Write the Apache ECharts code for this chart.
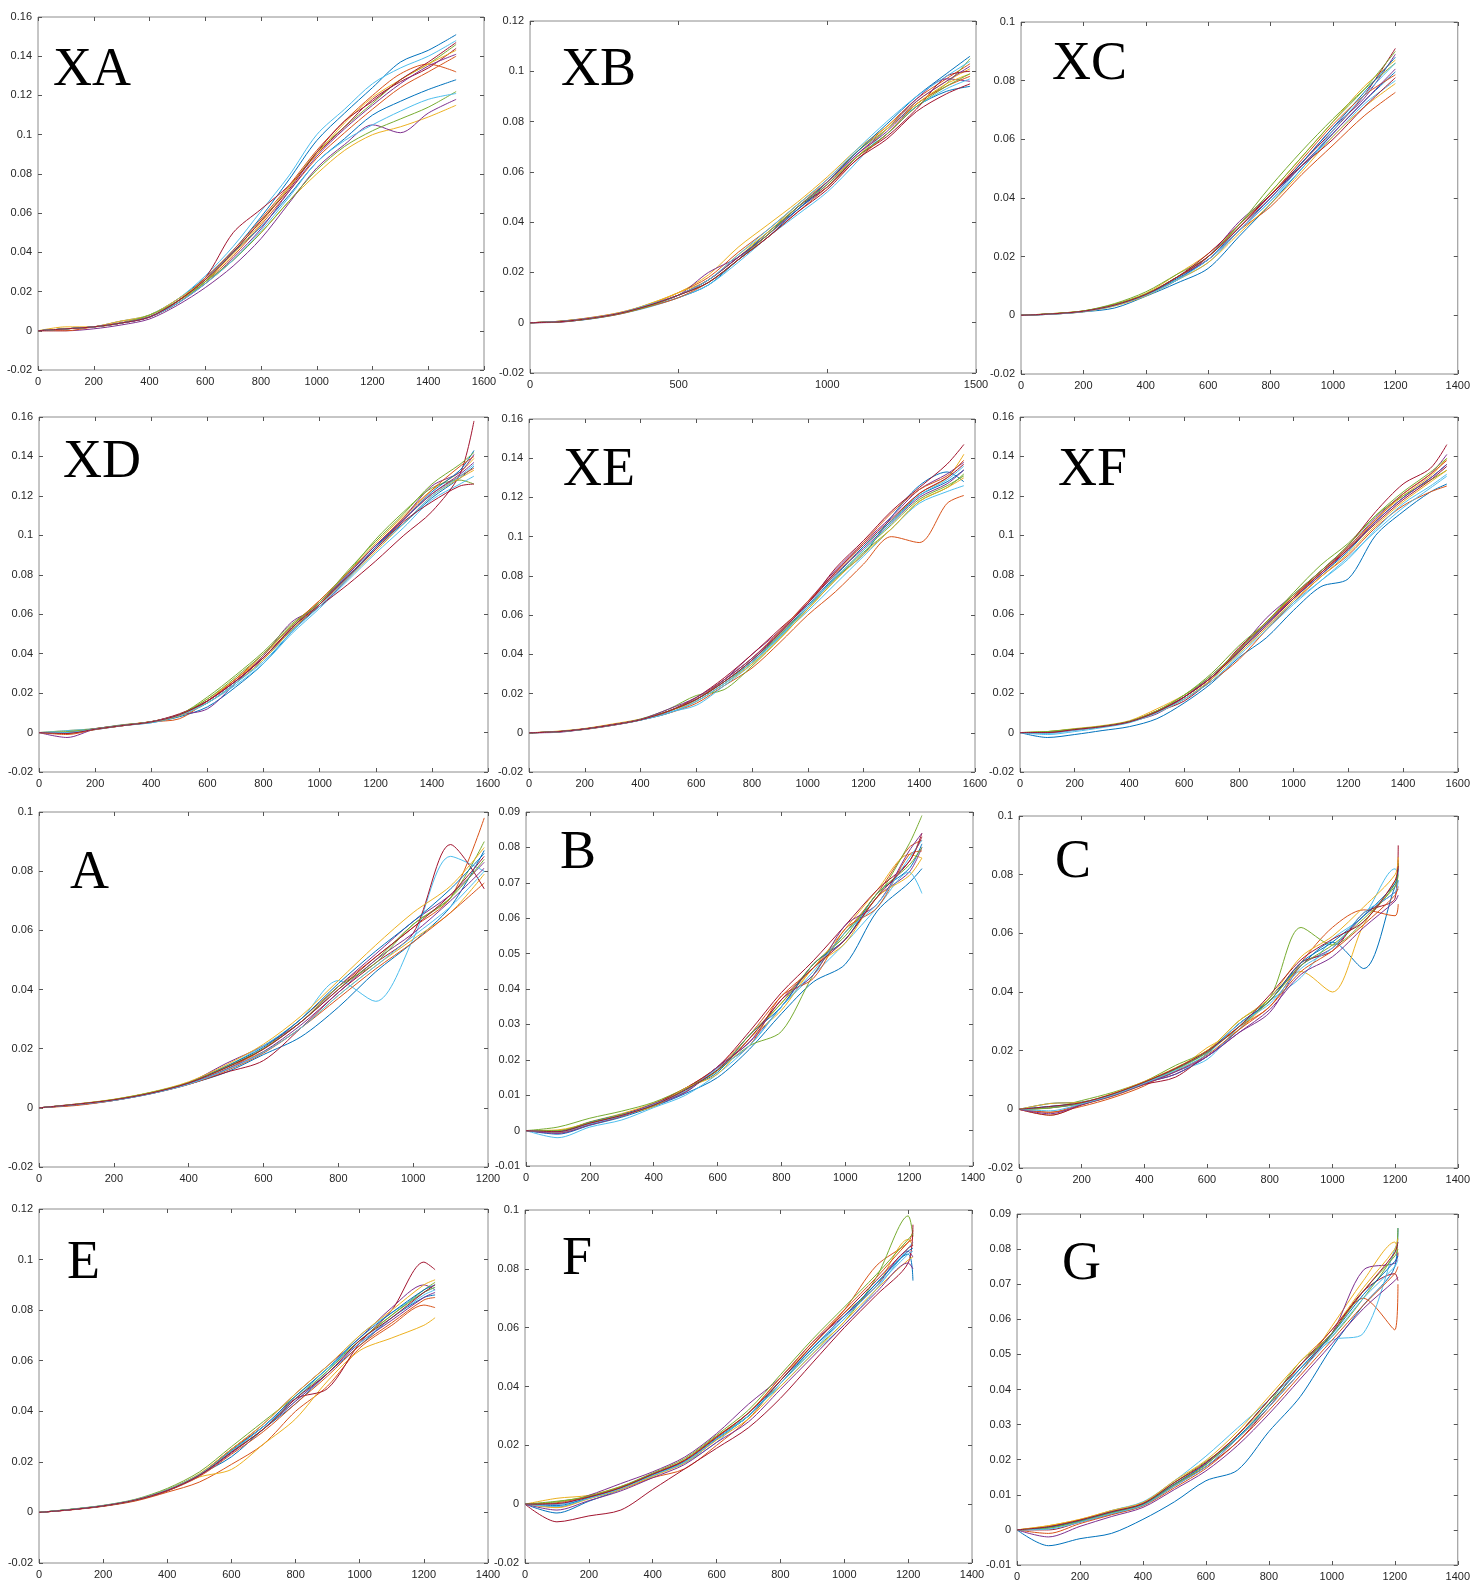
<!DOCTYPE html>
<html>
<head>
<meta charset="utf-8">
<title>Curves XA-G</title>
<script src="https://cdn.jsdelivr.net/npm/echarts@6/dist/echarts.min.js"></script>
<style>
  html, body { margin: 0; padding: 0; background: #fff; }
  #main { width: 1473px; height: 1582px; }
</style>
</head>
<body>
<div id="main"></div>
<script>
// MATLAB default line colours, cycled over the traces
const COLORS = ['#0072BD', '#D95319', '#EDB120', '#7E2F8E', '#77AC30', '#4DBEEE', '#A2142F'];

// ---- XA ----
const XA_x = [0, 100, 200, 300, 400, 500, 600, 700, 800, 900, 1000, 1100, 1200, 1300, 1400, 1500];
const XA_y = [
  [0, 0.001, 0.002, 0.004, 0.008, 0.016, 0.027, 0.041, 0.058, 0.077, 0.097, 0.111, 0.124, 0.137, 0.143, 0.151],
  [0, 0.001, 0.002, 0.005, 0.007, 0.014, 0.025, 0.038, 0.054, 0.071, 0.088, 0.101, 0.113, 0.124, 0.132, 0.140],
  [0, 0.002, 0.002, 0.004, 0.008, 0.015, 0.024, 0.036, 0.050, 0.066, 0.080, 0.092, 0.100, 0.104, 0.109, 0.115],
  [0, 0.000, 0.001, 0.003, 0.006, 0.013, 0.022, 0.033, 0.047, 0.065, 0.083, 0.095, 0.105, 0.101, 0.111, 0.118],
  [0, 0.001, 0.002, 0.004, 0.007, 0.014, 0.025, 0.040, 0.056, 0.073, 0.091, 0.104, 0.116, 0.128, 0.136, 0.146],
  [0, 0.001, 0.002, 0.005, 0.008, 0.016, 0.028, 0.043, 0.061, 0.079, 0.100, 0.113, 0.126, 0.134, 0.140, 0.148],
  [0, 0.001, 0.002, 0.004, 0.007, 0.015, 0.027, 0.050, 0.062, 0.074, 0.090, 0.104, 0.118, 0.127, 0.134, 0.144],
  [0, 0.001, 0.002, 0.004, 0.007, 0.015, 0.026, 0.040, 0.053, 0.069, 0.086, 0.098, 0.110, 0.117, 0.123, 0.128],
  [0, 0.000, 0.002, 0.004, 0.007, 0.015, 0.027, 0.041, 0.057, 0.074, 0.092, 0.107, 0.120, 0.131, 0.136, 0.132],
  [0, 0.001, 0.002, 0.005, 0.008, 0.016, 0.026, 0.039, 0.055, 0.073, 0.090, 0.106, 0.119, 0.128, 0.136, 0.143],
  [0, 0.001, 0.002, 0.004, 0.007, 0.014, 0.024, 0.037, 0.052, 0.071, 0.089, 0.103, 0.115, 0.126, 0.135, 0.141],
  [0, 0.001, 0.002, 0.004, 0.008, 0.015, 0.025, 0.036, 0.050, 0.066, 0.082, 0.094, 0.102, 0.108, 0.114, 0.122],
  [0, 0.001, 0.002, 0.004, 0.007, 0.014, 0.024, 0.036, 0.051, 0.068, 0.086, 0.097, 0.105, 0.112, 0.118, 0.121],
  [0, 0.001, 0.002, 0.004, 0.007, 0.015, 0.026, 0.040, 0.056, 0.072, 0.091, 0.107, 0.117, 0.128, 0.137, 0.147]
];

// ---- XB ----
const XB_x = [0, 100, 200, 300, 400, 500, 600, 700, 800, 900, 1000, 1100, 1200, 1300, 1400, 1480];
const XB_y = [
  [0, 0.0003, 0.0015, 0.0035, 0.0065, 0.010, 0.015, 0.025, 0.034, 0.045, 0.054, 0.066, 0.075, 0.086, 0.092, 0.094],
  [0, 0.0006, 0.0020, 0.0040, 0.0072, 0.012, 0.018, 0.028, 0.037, 0.047, 0.057, 0.068, 0.078, 0.089, 0.097, 0.103],
  [0, 0.0005, 0.0018, 0.0037, 0.0075, 0.012, 0.019, 0.030, 0.039, 0.048, 0.058, 0.069, 0.078, 0.088, 0.096, 0.101],
  [0, 0.0002, 0.0016, 0.0036, 0.0070, 0.011, 0.020, 0.026, 0.035, 0.045, 0.055, 0.067, 0.077, 0.089, 0.097, 0.096],
  [0, 0.0006, 0.0018, 0.0038, 0.0068, 0.011, 0.017, 0.026, 0.036, 0.046, 0.056, 0.068, 0.077, 0.087, 0.095, 0.105],
  [0, 0.0004, 0.0014, 0.0034, 0.0062, 0.010, 0.015, 0.024, 0.034, 0.043, 0.052, 0.064, 0.077, 0.086, 0.093, 0.097],
  [0, 0.0005, 0.0018, 0.0038, 0.0072, 0.011, 0.017, 0.026, 0.035, 0.046, 0.054, 0.066, 0.074, 0.085, 0.098, 0.100],
  [0, 0.0004, 0.0016, 0.0036, 0.0068, 0.011, 0.016, 0.025, 0.036, 0.045, 0.056, 0.068, 0.079, 0.090, 0.099, 0.106],
  [0, 0.0003, 0.0015, 0.0034, 0.0064, 0.010, 0.016, 0.025, 0.034, 0.044, 0.054, 0.065, 0.075, 0.087, 0.094, 0.098],
  [0, 0.0006, 0.0019, 0.0040, 0.0074, 0.012, 0.017, 0.027, 0.036, 0.047, 0.056, 0.066, 0.077, 0.087, 0.095, 0.099],
  [0, 0.0005, 0.0017, 0.0037, 0.0070, 0.011, 0.017, 0.026, 0.035, 0.046, 0.056, 0.067, 0.076, 0.088, 0.096, 0.102],
  [0, 0.0004, 0.0016, 0.0036, 0.0066, 0.011, 0.016, 0.025, 0.035, 0.046, 0.055, 0.066, 0.075, 0.086, 0.094, 0.099],
  [0, 0.0005, 0.0018, 0.0038, 0.0072, 0.011, 0.017, 0.027, 0.037, 0.047, 0.057, 0.069, 0.080, 0.090, 0.098, 0.104],
  [0, 0.0004, 0.0017, 0.0037, 0.0069, 0.011, 0.016, 0.025, 0.034, 0.044, 0.053, 0.065, 0.073, 0.084, 0.091, 0.095]
];

// ---- XC ----
const XC_x = [0, 100, 200, 300, 400, 500, 600, 700, 800, 900, 1000, 1100, 1200];
const XC_y = [
  [0, 0.0004, 0.0012, 0.0025, 0.0065, 0.011, 0.016, 0.027, 0.038, 0.050, 0.062, 0.073, 0.083],
  [0, 0.0005, 0.0014, 0.0035, 0.0070, 0.013, 0.019, 0.029, 0.037, 0.048, 0.058, 0.068, 0.076],
  [0, 0.0006, 0.0015, 0.0038, 0.0075, 0.014, 0.021, 0.031, 0.042, 0.054, 0.066, 0.078, 0.087],
  [0, 0.0004, 0.0013, 0.0034, 0.0070, 0.012, 0.020, 0.032, 0.041, 0.052, 0.064, 0.074, 0.089],
  [0, 0.0005, 0.0015, 0.0040, 0.0080, 0.014, 0.020, 0.031, 0.044, 0.056, 0.067, 0.077, 0.086],
  [0, 0.0004, 0.0012, 0.0032, 0.0068, 0.012, 0.018, 0.029, 0.039, 0.051, 0.061, 0.072, 0.080],
  [0, 0.0005, 0.0014, 0.0036, 0.0070, 0.013, 0.021, 0.031, 0.041, 0.052, 0.063, 0.075, 0.091],
  [0, 0.0005, 0.0013, 0.0034, 0.0068, 0.0125, 0.019, 0.030, 0.040, 0.052, 0.064, 0.076, 0.088],
  [0, 0.0005, 0.0014, 0.0036, 0.0072, 0.013, 0.020, 0.030, 0.041, 0.053, 0.065, 0.075, 0.082],
  [0, 0.0004, 0.0012, 0.0032, 0.0066, 0.012, 0.018, 0.028, 0.038, 0.049, 0.061, 0.071, 0.079],
  [0, 0.0005, 0.0013, 0.0035, 0.0070, 0.013, 0.019, 0.029, 0.040, 0.051, 0.062, 0.073, 0.084],
  [0, 0.0006, 0.0015, 0.0037, 0.0073, 0.013, 0.020, 0.031, 0.042, 0.054, 0.066, 0.077, 0.090],
  [0, 0.0004, 0.0013, 0.0034, 0.0068, 0.012, 0.019, 0.029, 0.039, 0.050, 0.063, 0.075, 0.086],
  [0, 0.0005, 0.0014, 0.0035, 0.0071, 0.013, 0.020, 0.030, 0.041, 0.051, 0.060, 0.071, 0.081]
];

// ---- XD ----
const XD_x = [0, 100, 200, 300, 400, 500, 600, 700, 800, 900, 1000, 1100, 1200, 1300, 1400, 1500, 1550];
const XD_y = [
  [0, 0.000, 0.0015, 0.0035, 0.0050, 0.0080, 0.013, 0.023, 0.035, 0.051, 0.065, 0.080, 0.095, 0.106, 0.119, 0.129, 0.135],
  [0, -0.001, 0.0015, 0.0035, 0.0055, 0.0070, 0.016, 0.027, 0.038, 0.053, 0.066, 0.079, 0.093, 0.108, 0.121, 0.130, 0.134],
  [0, 0.001, 0.0020, 0.0040, 0.0055, 0.0090, 0.017, 0.027, 0.039, 0.054, 0.067, 0.081, 0.096, 0.110, 0.123, 0.132, 0.139],
  [0, -0.0025, 0.0018, 0.0037, 0.0054, 0.0090, 0.012, 0.025, 0.039, 0.056, 0.064, 0.078, 0.094, 0.109, 0.125, 0.132, 0.141],
  [0, 0.000, 0.0020, 0.0038, 0.0055, 0.0090, 0.018, 0.029, 0.041, 0.055, 0.066, 0.081, 0.098, 0.112, 0.124, 0.128, 0.126],
  [0, 0.001, 0.0020, 0.0040, 0.0050, 0.0085, 0.015, 0.024, 0.035, 0.050, 0.063, 0.077, 0.091, 0.104, 0.118, 0.126, 0.130],
  [0, 0.000, 0.0018, 0.0035, 0.0055, 0.0095, 0.016, 0.026, 0.038, 0.052, 0.064, 0.075, 0.087, 0.100, 0.112, 0.131, 0.158],
  [0, 0.000, 0.0018, 0.0036, 0.0053, 0.0085, 0.015, 0.025, 0.037, 0.052, 0.065, 0.079, 0.094, 0.108, 0.122, 0.133, 0.143],
  [0, 0.000, 0.0020, 0.0038, 0.0056, 0.0090, 0.016, 0.027, 0.040, 0.054, 0.067, 0.081, 0.095, 0.109, 0.123, 0.135, 0.140],
  [0, -0.0005, 0.0017, 0.0035, 0.0053, 0.0085, 0.015, 0.025, 0.037, 0.052, 0.065, 0.078, 0.092, 0.106, 0.120, 0.129, 0.133],
  [0, 0.000, 0.0019, 0.0037, 0.0055, 0.0090, 0.016, 0.026, 0.038, 0.053, 0.066, 0.080, 0.095, 0.108, 0.121, 0.131, 0.137],
  [0, 0.0005, 0.0019, 0.0038, 0.0055, 0.0090, 0.017, 0.028, 0.040, 0.054, 0.066, 0.082, 0.097, 0.111, 0.126, 0.136, 0.142],
  [0, 0.000, 0.0018, 0.0036, 0.0054, 0.0088, 0.015, 0.025, 0.036, 0.051, 0.064, 0.078, 0.093, 0.106, 0.120, 0.130, 0.136],
  [0, -0.0005, 0.0017, 0.0036, 0.0054, 0.0090, 0.016, 0.026, 0.038, 0.053, 0.065, 0.079, 0.093, 0.107, 0.117, 0.125, 0.126]
];

// ---- XE ----
const XE_x = [0, 100, 200, 300, 400, 500, 600, 700, 800, 900, 1000, 1100, 1200, 1300, 1400, 1500, 1560];
const XE_y = [
  [0, 0.0005, 0.0018, 0.0040, 0.0065, 0.0100, 0.016, 0.025, 0.036, 0.049, 0.064, 0.079, 0.091, 0.110, 0.126, 0.133, 0.128],
  [0, 0.0005, 0.0017, 0.0038, 0.0065, 0.0100, 0.015, 0.024, 0.033, 0.046, 0.060, 0.072, 0.086, 0.100, 0.097, 0.117, 0.121],
  [0, 0.0008, 0.0022, 0.0045, 0.0070, 0.0110, 0.018, 0.027, 0.038, 0.051, 0.066, 0.081, 0.095, 0.108, 0.122, 0.130, 0.142],
  [0, 0.0002, 0.0018, 0.0038, 0.0065, 0.0110, 0.017, 0.027, 0.040, 0.052, 0.067, 0.083, 0.097, 0.110, 0.124, 0.132, 0.138],
  [0, 0.0006, 0.0020, 0.0040, 0.0070, 0.0120, 0.019, 0.022, 0.034, 0.048, 0.063, 0.078, 0.092, 0.104, 0.118, 0.125, 0.132],
  [0, 0.0005, 0.0019, 0.0040, 0.0064, 0.0105, 0.014, 0.024, 0.035, 0.049, 0.062, 0.076, 0.090, 0.104, 0.117, 0.123, 0.126],
  [0, 0.0004, 0.0020, 0.0042, 0.0067, 0.0110, 0.018, 0.028, 0.040, 0.053, 0.066, 0.084, 0.098, 0.113, 0.125, 0.137, 0.147],
  [0, 0.0005, 0.0019, 0.0040, 0.0066, 0.0110, 0.017, 0.026, 0.037, 0.050, 0.065, 0.080, 0.095, 0.108, 0.121, 0.128, 0.134],
  [0, 0.0005, 0.0019, 0.0040, 0.0066, 0.0110, 0.017, 0.027, 0.038, 0.052, 0.067, 0.082, 0.097, 0.112, 0.124, 0.131, 0.139],
  [0, 0.0005, 0.0019, 0.0040, 0.0066, 0.0110, 0.016, 0.025, 0.035, 0.048, 0.063, 0.078, 0.091, 0.104, 0.118, 0.125, 0.130],
  [0, 0.0006, 0.0020, 0.0041, 0.0068, 0.0120, 0.018, 0.027, 0.038, 0.051, 0.066, 0.081, 0.094, 0.107, 0.120, 0.127, 0.134],
  [0, 0.0005, 0.0019, 0.0040, 0.0066, 0.0110, 0.017, 0.026, 0.036, 0.050, 0.064, 0.079, 0.093, 0.106, 0.119, 0.126, 0.131],
  [0, 0.0004, 0.0018, 0.0039, 0.0065, 0.0100, 0.016, 0.025, 0.036, 0.049, 0.064, 0.079, 0.093, 0.107, 0.121, 0.129, 0.136],
  [0, 0.0005, 0.0019, 0.0040, 0.0066, 0.0110, 0.017, 0.026, 0.037, 0.051, 0.066, 0.082, 0.096, 0.109, 0.122, 0.130, 0.137]
];

// ---- XF ----
const XF_x = [0, 100, 200, 300, 400, 500, 600, 700, 800, 900, 1000, 1100, 1200, 1300, 1400, 1500, 1560];
const XF_y = [
  [0, -0.0025, -0.0010, 0.0010, 0.0030, 0.0070, 0.015, 0.025, 0.038, 0.048, 0.062, 0.074, 0.078, 0.100, 0.112, 0.122, 0.126],
  [0, 0.0000, 0.0015, 0.0030, 0.0055, 0.0110, 0.017, 0.026, 0.037, 0.052, 0.066, 0.079, 0.090, 0.104, 0.115, 0.122, 0.125],
  [0, 0.0005, 0.0020, 0.0035, 0.0060, 0.0120, 0.019, 0.028, 0.042, 0.056, 0.069, 0.081, 0.093, 0.108, 0.120, 0.130, 0.139],
  [0, 0.0000, 0.0012, 0.0030, 0.0055, 0.0095, 0.018, 0.029, 0.042, 0.058, 0.070, 0.082, 0.094, 0.109, 0.121, 0.131, 0.141],
  [0, 0.0005, 0.0018, 0.0032, 0.0057, 0.0110, 0.019, 0.030, 0.044, 0.056, 0.071, 0.085, 0.096, 0.110, 0.120, 0.128, 0.133],
  [0, -0.0010, 0.0005, 0.0025, 0.0050, 0.0100, 0.017, 0.027, 0.040, 0.053, 0.066, 0.077, 0.088, 0.103, 0.116, 0.125, 0.131],
  [0, 0.0000, 0.0015, 0.0030, 0.0055, 0.0105, 0.016, 0.027, 0.043, 0.055, 0.069, 0.082, 0.095, 0.112, 0.126, 0.134, 0.146],
  [0, 0.0000, 0.0015, 0.0030, 0.0054, 0.0105, 0.018, 0.028, 0.041, 0.055, 0.068, 0.080, 0.092, 0.107, 0.119, 0.129, 0.136],
  [0, 0.0000, 0.0016, 0.0031, 0.0055, 0.0110, 0.018, 0.028, 0.042, 0.056, 0.069, 0.081, 0.094, 0.108, 0.121, 0.131, 0.138],
  [0, 0.0000, 0.0014, 0.0029, 0.0053, 0.0100, 0.017, 0.027, 0.040, 0.053, 0.067, 0.079, 0.091, 0.105, 0.117, 0.127, 0.133],
  [0, 0.0000, 0.0015, 0.0030, 0.0054, 0.0105, 0.018, 0.028, 0.041, 0.055, 0.068, 0.080, 0.093, 0.107, 0.119, 0.129, 0.136],
  [0, 0.0005, 0.0017, 0.0032, 0.0056, 0.0110, 0.019, 0.029, 0.042, 0.056, 0.070, 0.082, 0.095, 0.110, 0.122, 0.132, 0.139],
  [0, -0.0005, 0.0012, 0.0028, 0.0052, 0.0100, 0.017, 0.026, 0.039, 0.052, 0.065, 0.077, 0.089, 0.102, 0.114, 0.124, 0.130],
  [0, 0.0000, 0.0015, 0.0030, 0.0054, 0.0105, 0.018, 0.028, 0.041, 0.054, 0.068, 0.081, 0.093, 0.106, 0.118, 0.128, 0.135]
];

// ---- A ----
const A_x = [0, 100, 200, 300, 400, 500, 600, 700, 800, 900, 1000, 1100, 1190];
const A_y = [
  [0, 0.0010, 0.0025, 0.0048, 0.0080, 0.0120, 0.0180, 0.024, 0.034, 0.046, 0.056, 0.068, 0.087],
  [0, 0.0008, 0.0025, 0.0050, 0.0082, 0.0130, 0.0200, 0.030, 0.041, 0.051, 0.061, 0.071, 0.098],
  [0, 0.0012, 0.0028, 0.0052, 0.0085, 0.0140, 0.0190, 0.027, 0.038, 0.048, 0.057, 0.066, 0.079],
  [0, 0.0013, 0.0027, 0.0050, 0.0085, 0.0150, 0.0210, 0.029, 0.041, 0.052, 0.063, 0.072, 0.083],
  [0, 0.0012, 0.0028, 0.0052, 0.0084, 0.0135, 0.0200, 0.029, 0.040, 0.050, 0.062, 0.071, 0.090],
  [0, 0.0012, 0.0028, 0.0052, 0.0085, 0.0140, 0.0210, 0.030, 0.043, 0.036, 0.057, 0.085, 0.080],
  [0, 0.0011, 0.0026, 0.0049, 0.0080, 0.0120, 0.0160, 0.027, 0.039, 0.049, 0.059, 0.089, 0.074],
  [0, 0.0012, 0.0027, 0.0051, 0.0086, 0.0140, 0.0205, 0.030, 0.042, 0.053, 0.063, 0.074, 0.086],
  [0, 0.0010, 0.0025, 0.0048, 0.0079, 0.0125, 0.0185, 0.027, 0.037, 0.047, 0.056, 0.066, 0.076],
  [0, 0.0013, 0.0029, 0.0053, 0.0088, 0.0145, 0.0215, 0.031, 0.043, 0.055, 0.066, 0.075, 0.088],
  [0, 0.0011, 0.0026, 0.0049, 0.0081, 0.0130, 0.0190, 0.028, 0.039, 0.050, 0.059, 0.070, 0.081],
  [0, 0.0012, 0.0028, 0.0052, 0.0085, 0.0138, 0.0200, 0.029, 0.041, 0.049, 0.062, 0.071, 0.084],
  [0, 0.0011, 0.0025, 0.0048, 0.0080, 0.0128, 0.0188, 0.027, 0.038, 0.048, 0.058, 0.068, 0.080],
  [0, 0.0012, 0.0027, 0.0050, 0.0084, 0.0136, 0.0198, 0.029, 0.040, 0.051, 0.061, 0.072, 0.085]
];

// ---- B ----
const B_x = [0, 100, 200, 300, 400, 500, 600, 700, 800, 900, 1000, 1100, 1200, 1240];
const B_y = [
  [0, -0.0010, 0.0015, 0.0038, 0.0068, 0.0105, 0.0150, 0.023, 0.033, 0.042, 0.047, 0.062, 0.070, 0.074],
  [0, 0.0000, 0.0022, 0.0045, 0.0075, 0.0120, 0.0180, 0.027, 0.038, 0.046, 0.056, 0.067, 0.080, 0.082],
  [0, 0.0000, 0.0025, 0.0048, 0.0078, 0.0120, 0.0170, 0.026, 0.036, 0.046, 0.057, 0.068, 0.078, 0.077],
  [0, -0.0005, 0.0020, 0.0042, 0.0070, 0.0110, 0.0180, 0.025, 0.035, 0.047, 0.054, 0.066, 0.073, 0.080],
  [0, 0.0010, 0.0035, 0.0055, 0.0080, 0.0120, 0.0170, 0.024, 0.028, 0.044, 0.056, 0.066, 0.081, 0.089],
  [0, -0.0020, 0.0010, 0.0030, 0.0065, 0.0100, 0.0160, 0.024, 0.035, 0.044, 0.053, 0.063, 0.073, 0.067],
  [0, -0.0003, 0.0020, 0.0045, 0.0075, 0.0120, 0.0180, 0.028, 0.039, 0.048, 0.058, 0.068, 0.076, 0.084],
  [0, -0.0002, 0.0024, 0.0046, 0.0070, 0.0118, 0.0165, 0.027, 0.035, 0.047, 0.054, 0.067, 0.074, 0.081],
  [0, -0.0006, 0.0017, 0.0040, 0.0075, 0.0110, 0.0178, 0.024, 0.038, 0.043, 0.057, 0.063, 0.078, 0.079],
  [0, 0.0002, 0.0022, 0.0045, 0.0068, 0.0120, 0.0160, 0.026, 0.034, 0.046, 0.053, 0.066, 0.072, 0.077],
  [0, -0.0008, 0.0016, 0.0041, 0.0076, 0.0108, 0.0180, 0.025, 0.037, 0.044, 0.058, 0.064, 0.079, 0.084],
  [0, 0.0000, 0.0023, 0.0044, 0.0071, 0.0116, 0.0170, 0.027, 0.036, 0.047, 0.055, 0.067, 0.075, 0.080],
  [0, -0.0004, 0.0019, 0.0042, 0.0074, 0.0112, 0.0176, 0.024, 0.035, 0.045, 0.056, 0.064, 0.077, 0.082],
  [0, -0.0003, 0.0021, 0.0043, 0.0072, 0.0115, 0.0172, 0.026, 0.037, 0.046, 0.054, 0.066, 0.076, 0.083]
];

// ---- C ----
const C_x = [0, 100, 200, 300, 400, 500, 600, 700, 800, 900, 1000, 1100, 1200, 1210];
const C_y = [
  [0, 0.0020, 0.0025, 0.0050, 0.0090, 0.0120, 0.0180, 0.027, 0.038, 0.049, 0.057, 0.048, 0.076, 0.078],
  [0, -0.0010, 0.0010, 0.0040, 0.0080, 0.0140, 0.0200, 0.028, 0.035, 0.050, 0.062, 0.068, 0.066, 0.070],
  [0, -0.0020, 0.0015, 0.0045, 0.0085, 0.0130, 0.0210, 0.027, 0.037, 0.047, 0.040, 0.063, 0.078, 0.085],
  [0, 0.0005, 0.0020, 0.0052, 0.0090, 0.0120, 0.0180, 0.026, 0.033, 0.049, 0.055, 0.066, 0.074, 0.075],
  [0, 0.0005, 0.0030, 0.0058, 0.0095, 0.0150, 0.0200, 0.030, 0.038, 0.062, 0.056, 0.064, 0.077, 0.084],
  [0, 0.0010, 0.0020, 0.0050, 0.0090, 0.0130, 0.0170, 0.028, 0.037, 0.045, 0.058, 0.066, 0.082, 0.080],
  [0, -0.0020, 0.0015, 0.0048, 0.0085, 0.0110, 0.0190, 0.029, 0.037, 0.050, 0.054, 0.067, 0.072, 0.090],
  [0, 0.0010, 0.0022, 0.0052, 0.0092, 0.0138, 0.0195, 0.029, 0.037, 0.050, 0.057, 0.066, 0.077, 0.082],
  [0, -0.0010, 0.0018, 0.0047, 0.0088, 0.0130, 0.0185, 0.027, 0.035, 0.047, 0.054, 0.063, 0.073, 0.076],
  [0, 0.0020, 0.0024, 0.0055, 0.0095, 0.0142, 0.0200, 0.030, 0.038, 0.052, 0.059, 0.069, 0.080, 0.086],
  [0, -0.0015, 0.0016, 0.0046, 0.0086, 0.0128, 0.0180, 0.026, 0.034, 0.046, 0.052, 0.062, 0.071, 0.073],
  [0, 0.0005, 0.0021, 0.0051, 0.0091, 0.0136, 0.0193, 0.028, 0.037, 0.049, 0.056, 0.065, 0.076, 0.080],
  [0, -0.0005, 0.0019, 0.0049, 0.0089, 0.0133, 0.0188, 0.029, 0.036, 0.048, 0.055, 0.067, 0.074, 0.078],
  [0, 0.0010, 0.0023, 0.0053, 0.0093, 0.0140, 0.0198, 0.028, 0.039, 0.051, 0.058, 0.064, 0.078, 0.083]
];

// ---- E ----
const E_x = [0, 100, 200, 300, 400, 500, 600, 700, 800, 900, 1000, 1100, 1200, 1235];
const E_y = [
  [0, 0.0012, 0.0027, 0.0050, 0.0090, 0.0150, 0.0220, 0.033, 0.043, 0.055, 0.066, 0.077, 0.085, 0.086],
  [0, 0.0010, 0.0024, 0.0045, 0.0080, 0.0120, 0.0190, 0.027, 0.040, 0.050, 0.065, 0.074, 0.082, 0.081],
  [0, 0.0012, 0.0025, 0.0048, 0.0085, 0.0140, 0.0170, 0.027, 0.037, 0.052, 0.064, 0.069, 0.074, 0.077],
  [0, 0.0011, 0.0026, 0.0050, 0.0090, 0.0150, 0.0250, 0.035, 0.047, 0.058, 0.069, 0.081, 0.090, 0.088],
  [0, 0.0013, 0.0028, 0.0052, 0.0095, 0.0160, 0.0260, 0.036, 0.046, 0.057, 0.068, 0.078, 0.088, 0.091],
  [0, 0.0012, 0.0027, 0.0050, 0.0090, 0.0150, 0.0240, 0.034, 0.044, 0.056, 0.070, 0.079, 0.087, 0.089],
  [0, 0.0011, 0.0026, 0.0048, 0.0085, 0.0150, 0.0250, 0.034, 0.045, 0.049, 0.067, 0.080, 0.099, 0.096],
  [0, 0.0012, 0.0026, 0.0049, 0.0088, 0.0150, 0.0245, 0.034, 0.046, 0.057, 0.069, 0.079, 0.088, 0.090],
  [0, 0.0011, 0.0025, 0.0047, 0.0085, 0.0142, 0.0230, 0.032, 0.043, 0.054, 0.066, 0.075, 0.084, 0.085],
  [0, 0.0012, 0.0027, 0.0050, 0.0090, 0.0153, 0.0250, 0.035, 0.047, 0.058, 0.070, 0.080, 0.090, 0.092],
  [0, 0.0011, 0.0025, 0.0048, 0.0086, 0.0145, 0.0235, 0.033, 0.044, 0.055, 0.067, 0.076, 0.085, 0.087],
  [0, 0.0012, 0.0026, 0.0049, 0.0088, 0.0148, 0.0240, 0.033, 0.045, 0.056, 0.068, 0.078, 0.087, 0.089],
  [0, 0.0012, 0.0027, 0.0050, 0.0089, 0.0150, 0.0242, 0.034, 0.045, 0.057, 0.067, 0.077, 0.086, 0.088],
  [0, 0.0011, 0.0026, 0.0049, 0.0087, 0.0147, 0.0238, 0.033, 0.045, 0.055, 0.068, 0.077, 0.087, 0.090]
];

// ---- F ----
const F_x = [0, 100, 200, 300, 400, 500, 600, 700, 800, 900, 1000, 1100, 1200, 1215];
const F_y = [
  [0, -0.0030, 0.0010, 0.0050, 0.0100, 0.0140, 0.0220, 0.030, 0.041, 0.053, 0.063, 0.075, 0.085, 0.076],
  [0, -0.0010, 0.0020, 0.0050, 0.0090, 0.0120, 0.0200, 0.029, 0.042, 0.054, 0.066, 0.081, 0.089, 0.093],
  [0, 0.0020, 0.0030, 0.0060, 0.0100, 0.0150, 0.0230, 0.031, 0.043, 0.054, 0.065, 0.074, 0.090, 0.088],
  [0, 0.0000, 0.0030, 0.0070, 0.0110, 0.0160, 0.0240, 0.034, 0.043, 0.055, 0.064, 0.074, 0.086, 0.084],
  [0, 0.0010, 0.0025, 0.0055, 0.0095, 0.0150, 0.0230, 0.030, 0.041, 0.052, 0.062, 0.077, 0.098, 0.091],
  [0, 0.0000, 0.0020, 0.0050, 0.0100, 0.0140, 0.0210, 0.031, 0.040, 0.051, 0.061, 0.073, 0.087, 0.089],
  [0, -0.0060, -0.0040, -0.0020, 0.0050, 0.0120, 0.0190, 0.026, 0.036, 0.048, 0.060, 0.071, 0.082, 0.095],
  [0, -0.0005, 0.0022, 0.0055, 0.0100, 0.0145, 0.0224, 0.030, 0.042, 0.053, 0.064, 0.075, 0.086, 0.087],
  [0, 0.0005, 0.0026, 0.0058, 0.0104, 0.0150, 0.0230, 0.031, 0.043, 0.055, 0.066, 0.077, 0.089, 0.090],
  [0, -0.0012, 0.0018, 0.0050, 0.0095, 0.0140, 0.0218, 0.029, 0.040, 0.051, 0.062, 0.073, 0.083, 0.084],
  [0, -0.0020, 0.0012, 0.0045, 0.0090, 0.0135, 0.0210, 0.028, 0.039, 0.050, 0.061, 0.072, 0.082, 0.080],
  [0, 0.0008, 0.0028, 0.0060, 0.0106, 0.0155, 0.0235, 0.032, 0.044, 0.056, 0.067, 0.078, 0.090, 0.092],
  [0, -0.0008, 0.0020, 0.0053, 0.0098, 0.0143, 0.0222, 0.030, 0.041, 0.052, 0.063, 0.074, 0.085, 0.086],
  [0, 0.0002, 0.0024, 0.0056, 0.0102, 0.0148, 0.0227, 0.031, 0.042, 0.054, 0.065, 0.076, 0.087, 0.088]
];

// ---- G ----
const G_x = [0, 100, 200, 300, 400, 500, 600, 700, 800, 900, 1000, 1100, 1200, 1210];
const G_y = [
  [0, -0.0045, -0.0025, -0.0010, 0.0030, 0.0080, 0.0140, 0.0170, 0.0280, 0.038, 0.0520, 0.064, 0.0750, 0.086],
  [0, 0.0005, 0.0025, 0.0050, 0.0072, 0.0130, 0.0180, 0.0260, 0.0350, 0.047, 0.0560, 0.066, 0.0570, 0.070],
  [0, 0.0012, 0.0030, 0.0055, 0.0078, 0.0135, 0.0190, 0.0270, 0.0360, 0.045, 0.0580, 0.071, 0.0820, 0.078],
  [0, 0.0008, 0.0026, 0.0050, 0.0075, 0.0130, 0.0190, 0.0270, 0.0370, 0.047, 0.0560, 0.074, 0.0760, 0.079],
  [0, 0.0010, 0.0028, 0.0052, 0.0073, 0.0135, 0.0195, 0.0260, 0.0360, 0.048, 0.0550, 0.066, 0.0790, 0.086],
  [0, 0.0005, 0.0026, 0.0055, 0.0080, 0.0140, 0.0210, 0.0290, 0.0370, 0.046, 0.0540, 0.056, 0.0800, 0.082],
  [0, 0.0000, 0.0022, 0.0045, 0.0070, 0.0125, 0.0180, 0.0250, 0.0350, 0.045, 0.0560, 0.068, 0.0730, 0.071],
  [0, 0.0007, 0.0026, 0.0050, 0.0073, 0.0130, 0.0187, 0.0263, 0.0358, 0.046, 0.0557, 0.067, 0.0765, 0.078],
  [0, -0.0010, 0.0018, 0.0043, 0.0068, 0.0120, 0.0175, 0.0250, 0.0340, 0.044, 0.0540, 0.064, 0.0730, 0.075],
  [0, 0.0012, 0.0030, 0.0055, 0.0078, 0.0140, 0.0198, 0.0280, 0.0380, 0.048, 0.0570, 0.069, 0.0800, 0.083],
  [0, -0.0020, 0.0010, 0.0038, 0.0064, 0.0115, 0.0168, 0.0240, 0.0330, 0.043, 0.0530, 0.063, 0.0710, 0.072],
  [0, 0.0005, 0.0024, 0.0048, 0.0071, 0.0128, 0.0185, 0.0270, 0.0370, 0.047, 0.0560, 0.068, 0.0780, 0.080],
  [0, 0.0002, 0.0022, 0.0046, 0.0070, 0.0125, 0.0180, 0.0260, 0.0350, 0.045, 0.0550, 0.066, 0.0750, 0.077],
  [0, 0.0009, 0.0028, 0.0052, 0.0075, 0.0135, 0.0192, 0.0270, 0.0370, 0.047, 0.0570, 0.068, 0.0790, 0.082]
];

// panel layout: box = [left, top, width, height] of the plot area, lab = [left, baseline] of the big letter
const panels = [
  { name: 'XA', x: XA_x, y: XA_y, box: [38, 17, 446, 353],   xMax: 1600, xStep: 200, yMin: -0.02, yMax: 0.16, yStep: 0.02, lab: [53, 87] },
  { name: 'XB', x: XB_x, y: XB_y, box: [530, 21, 446, 352],  xMax: 1500, xStep: 500, yMin: -0.02, yMax: 0.12, yStep: 0.02, lab: [561, 87] },
  { name: 'XC', x: XC_x, y: XC_y, box: [1021, 22, 446, 352], xMax: 1400, xStep: 200, yMin: -0.02, yMax: 0.1,  yStep: 0.02, lab: [1052, 81] },
  { name: 'XD', x: XD_x, y: XD_y, box: [39, 417, 449, 355],  xMax: 1600, xStep: 200, yMin: -0.02, yMax: 0.16, yStep: 0.02, lab: [63, 479] },
  { name: 'XE', x: XE_x, y: XE_y, box: [529, 419, 446, 353], xMax: 1600, xStep: 200, yMin: -0.02, yMax: 0.16, yStep: 0.02, lab: [563, 487] },
  { name: 'XF', x: XF_x, y: XF_y, box: [1020, 417, 448, 355], xMax: 1600, xStep: 200, yMin: -0.02, yMax: 0.16, yStep: 0.02, lab: [1058, 487] },
  { name: 'A',  x: A_x,  y: A_y,  box: [39, 812, 449, 355],  xMax: 1200, xStep: 200, yMin: -0.02, yMax: 0.1,  yStep: 0.02, lab: [70, 890] },
  { name: 'B',  x: B_x,  y: B_y,  box: [526, 812, 447, 354], xMax: 1400, xStep: 200, yMin: -0.01, yMax: 0.09, yStep: 0.01, lab: [560, 870] },
  { name: 'C',  x: C_x,  y: C_y,  box: [1019, 816, 445, 352], xMax: 1400, xStep: 200, yMin: -0.02, yMax: 0.1,  yStep: 0.02, lab: [1055, 879] },
  { name: 'E',  x: E_x,  y: E_y,  box: [39, 1209, 449, 354], xMax: 1400, xStep: 200, yMin: -0.02, yMax: 0.12, yStep: 0.02, lab: [67, 1280] },
  { name: 'F',  x: F_x,  y: F_y,  box: [525, 1210, 447, 353], xMax: 1400, xStep: 200, yMin: -0.02, yMax: 0.1,  yStep: 0.02, lab: [562, 1276] },
  { name: 'G',  x: G_x,  y: G_y,  box: [1017, 1214, 445, 352], xMax: 1400, xStep: 200, yMin: -0.01, yMax: 0.09, yStep: 0.01, lab: [1062, 1281] }
];

const LABEL_SIZE = 54;
const tickStyle = { show: true, inside: true, length: 4, lineStyle: { color: '#555', width: 1 } };
const labelStyle = { color: '#262626', fontSize: 11, fontFamily: 'Liberation Sans, Arial, sans-serif' };
// plain numbers: no thousands separator, no float noise
const fmt = v => String(+(+v).toFixed(4));

let grid = [], xAxis = [], yAxis = [], series = [], graphic = [];

panels.forEach((p, i) => {
  grid.push({
    left: p.box[0], top: p.box[1], width: p.box[2], height: p.box[3],
    show: true, borderColor: '#8c8c8c', borderWidth: 1, backgroundColor: '#fff'
  });
  // bottom + top x axes, left + right y axes, ticks pointing inwards (matlab box)
  ['bottom', 'top'].forEach(pos => {
    xAxis.push({
      type: 'value', gridIndex: i, position: pos, min: 0, max: p.xMax, interval: p.xStep,
      axisLine: { show: false, onZero: false }, axisTick: tickStyle, splitLine: { show: false },
      axisLabel: pos === 'bottom' ? Object.assign({ margin: 6, formatter: fmt }, labelStyle) : { show: false }
    });
  });
  ['left', 'right'].forEach(pos => {
    yAxis.push({
      type: 'value', gridIndex: i, position: pos, min: p.yMin, max: p.yMax, interval: p.yStep,
      axisLine: { show: false, onZero: false }, axisTick: tickStyle, splitLine: { show: false },
      axisLabel: pos === 'left' ? Object.assign({ margin: 6, formatter: fmt }, labelStyle) : { show: false }
    });
  });
  p.y.forEach((ys, k) => {
    const c = COLORS[k % COLORS.length];
    series.push({
      type: 'line', xAxisIndex: 2 * i, yAxisIndex: 2 * i,
      data: p.x.map((xv, j) => [xv, ys[j]]),
      showSymbol: false, smooth: 0.3, silent: true,
      lineStyle: { color: c, width: 1 },
      itemStyle: { color: c }
    });
  });
  graphic.push({
    type: 'text', left: p.lab[0], top: p.lab[1] - Math.round(LABEL_SIZE * 0.805), z: 100,
    style: {
      text: p.name, fill: '#000',
      font: LABEL_SIZE + 'px "Liberation Serif", "DejaVu Serif", serif'
    }
  });
});

const chart = echarts.init(document.getElementById('main'), null, { renderer: 'canvas' });
chart.setOption({
  animation: false,
  backgroundColor: '#fff',
  grid: grid,
  xAxis: xAxis,
  yAxis: yAxis,
  series: series,
  graphic: graphic
});
</script>
</body>
</html>
